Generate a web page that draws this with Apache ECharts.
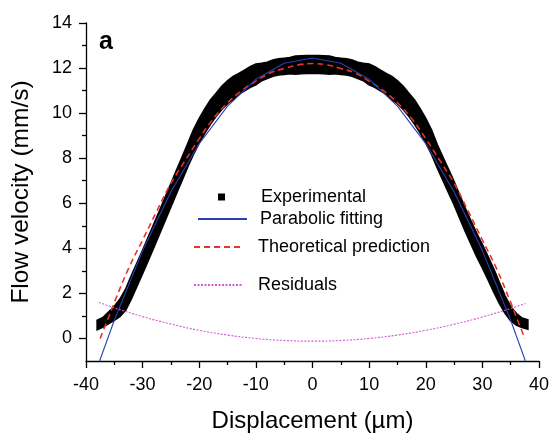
<!DOCTYPE html>
<html>
<head>
<meta charset="utf-8">
<script src="https://cdn.jsdelivr.net/npm/echarts@6/dist/echarts.min.js"></script>
<style>html,body{margin:0;padding:0;background:#fff}#c{width:550px;height:434px}</style>
</head>
<body>
<div id="c"></div>
<script>
// ---- data ----
const expX = [-38,-37,-36,-35,-34,-33,-32,-31,-30,-29,-28,-27,-26,-25,-24,-23,-22,-21,-20,-19,-18,-17,-16,-15,-14,-13,-12,-11,-10,-9,-8,-7,-6,-5,-4,-3,-2,-1,0,
  1,2,3,4,5,6,7,8,9,10,11,12,13,14,15,16,17,18,19,20,21,22,23,24,25,26,27,28,29,30,31,32,33,34,35,36,37,38];
const expUpper = [0.80,0.92,1.17,1.41,1.73,2.17,2.77,3.33,3.90,4.48,5.07,5.66,6.26,6.86,7.46,8.05,8.65,9.25,9.75,10.18,10.58,10.88,11.18,11.43,11.62,11.75,11.90,12.05,12.17,12.20,12.25,12.35,12.40,12.43,12.46,12.52,12.54,12.55,12.55,
  12.55,12.54,12.52,12.46,12.43,12.40,12.35,12.25,12.20,12.17,12.05,11.90,11.75,11.62,11.43,11.18,10.88,10.58,10.18,9.75,9.25,8.60,8.05,7.50,6.95,6.35,5.75,5.20,4.65,4.15,3.62,3.08,2.47,1.88,1.40,1.10,0.90,0.82];
const expLower = [0.40,0.52,0.67,0.81,0.99,1.27,1.77,2.33,2.90,3.48,4.07,4.66,5.26,5.86,6.46,7.05,7.65,8.20,8.70,9.13,9.53,9.88,10.18,10.43,10.62,10.85,11.00,11.15,11.27,11.45,11.55,11.65,11.70,11.73,11.76,11.74,11.76,11.77,11.77,
  11.77,11.76,11.74,11.76,11.73,11.70,11.65,11.55,11.45,11.27,11.15,11.00,10.85,10.62,10.43,10.18,9.88,9.53,9.13,8.70,8.20,7.60,7.05,6.50,5.95,5.35,4.75,4.20,3.65,3.15,2.62,2.08,1.57,1.13,0.80,0.60,0.50,0.42];

const fitX = [-37.6,-35,-30,-25,-20,-15,-10,-5,0,5,10,15,20,25,30,35,37.6];
const fitY = [-1.0,0.81,3.90,6.51,8.65,10.31,11.50,12.21,12.45,12.21,11.50,10.31,8.65,6.51,3.90,0.81,-1.0];

const theoX = [-37.5,-36,-35,-32.5,-30,-27.5,-25,-22.5,-20,-17.5,-15,-12.5,-10,-7.5,-5,-2.5,0,2.5,5,7.5,10,12.5,15,17.5,20,22.5,25,27.5,30,32.5,35,36,37.5];
const theoY = [0.0,0.95,1.60,3.10,4.37,5.65,6.89,7.89,8.87,9.76,10.46,11.00,11.42,11.78,11.98,12.14,12.20,12.14,11.98,11.78,11.42,11.00,10.46,9.76,8.87,7.89,6.89,5.65,4.37,3.10,1.60,0.95,0.0];

const resX = [-37.7,-35,-30,-25,-20,-15,-10,-5,0,5,10,15,20,25,30,35,37.6];
const resY = [1.60,1.36,0.97,0.64,0.36,0.15,0.00,-0.09,-0.12,-0.09,0.00,0.15,0.36,0.63,0.95,1.33,1.55];

const yMajorTicks = [0,2,4,6,8,10,12,14];
const yMinorTicks = [1,3,5,7,9,11,13];

const names = ['Experimental','Parabolic fitting','Theoretical prediction','Residuals'];

// ---- build ----
const zip = (xs, ys) => xs.map((x, i) => [x, ys[i]]);
const expData = expX.map((x, i) => [x, expUpper[i], expLower[i]]);
const FONT = '"Liberation Sans", Arial, Helvetica, sans-serif';

const chart = echarts.init(document.getElementById('c'), null, {renderer: 'canvas'});

function legendBox(name, left, top, w, h, pad, hideSymbol) {
  const lg = {
    data: [name === names[0] ? {name: name, icon: 'rect'} : {name: name}],
    left: left, top: top, padding: 0,
    itemWidth: w, itemHeight: h,
    selectedMode: false,
    textStyle: {fontFamily: FONT, fontSize: 18, color: '#000', padding: [0, 0, 0, pad]}
  };
  if (hideSymbol) lg.itemStyle = {opacity: 0};
  return lg;
}

const option = {
  animation: false,
  backgroundColor: '#fff',
  grid: {left: 86, right: 11, top: 23, bottom: 73, containLabel: false, outerBoundsMode: 'none'},
  xAxis: {
    type: 'value', min: -40, max: 40, interval: 10,
    name: 'Displacement (\u00b5m)', nameLocation: 'middle', nameGap: 48,
    nameTextStyle: {fontFamily: FONT, fontSize: 24, color: '#000'},
    axisLine: {show: true, onZero: false, lineStyle: {color: '#000', width: 1.3}},
    axisTick: {show: true, inside: false, length: 7, lineStyle: {color: '#000', width: 1.3}},
    minorTick: {show: true, splitNumber: 2, length: 4, lineStyle: {color: '#000', width: 1.3}},
    axisLabel: {fontFamily: FONT, fontSize: 18, color: '#000', margin: 15},
    splitLine: {show: false}
  },
  yAxis: [{
    type: 'value', min: -1, max: 14,
    name: 'Flow velocity (mm/s)', nameLocation: 'middle', nameGap: 52,
    nameTextStyle: {fontFamily: FONT, fontSize: 24.5, color: '#000'},
    axisLine: {show: true, onZero: false, lineStyle: {color: '#000', width: 1.3}},
    axisTick: {show: true, inside: false, length: 7, customValues: yMajorTicks, lineStyle: {color: '#000', width: 1.3}},
    axisLabel: {fontFamily: FONT, fontSize: 18, color: '#000', margin: 14, customValues: yMajorTicks},
    splitLine: {show: false}
  }, {
    type: 'value', min: -1, max: 14, position: 'left', offset: 0,
    axisLine: {show: false, onZero: false},
    axisTick: {show: true, inside: false, length: 4, customValues: yMinorTicks, lineStyle: {color: '#000', width: 1.3}},
    axisLabel: {show: false},
    splitLine: {show: false}
  }],
  legend: [
    legendBox(names[0], 218, 188, 7, 7, 31, false),
    legendBox(names[1], 197, 210, 49, 14, 8, true),
    legendBox(names[2], 193, 238, 50, 14, 9, true),
    legendBox(names[3], 193, 276, 48, 14, 11, true)
  ],
  graphic: [{
    type: 'text', left: 99, top: 30,
    style: {text: 'a', fontFamily: FONT, fontSize: 25, fontWeight: 'bold', fill: '#000'}
  }],
  series: [
    {
      name: names[0], type: 'custom', z: 1,
      itemStyle: {color: '#000'},
      data: expData,
      encode: {x: 0, y: [1, 2]},
      renderItem: function (params, api) {
        if (params.dataIndex !== 0) return null;
        const pts = [];
        for (let i = 0; i < expData.length; i++) pts.push(api.coord([expData[i][0], expData[i][1]]));
        for (let i = expData.length - 1; i >= 0; i--) pts.push(api.coord([expData[i][0], expData[i][2]]));
        return {
          type: 'polygon',
          shape: {points: pts},
          style: {fill: '#000', stroke: '#000', lineWidth: 2, lineJoin: 'miter'}
        };
      }
    },
    {
      name: names[2], type: 'line', z: 3, smooth: 0.4, showSymbol: false, symbol: 'none',
      data: zip(theoX, theoY),
      itemStyle: {color: '#e8322a'},
      lineStyle: {color: '#e8322a', width: 1.6, type: [6, 4]}
    },
    {
      name: names[1], type: 'line', z: 4, smooth: false, showSymbol: false, symbol: 'none',
      data: zip(fitX, fitY),
      itemStyle: {color: '#2b3fb3'},
      lineStyle: {color: '#2b3fb3', width: 1.1}
    },
    {
      name: names[3], type: 'line', z: 5, smooth: 0.4, showSymbol: false, symbol: 'none',
      data: zip(resX, resY),
      itemStyle: {color: '#d25ad2'},
      lineStyle: {color: '#d25ad2', width: 1.1, type: [2, 1.5]}
    }
  ]
};
chart.setOption(option);
</script>
</body>
</html>
